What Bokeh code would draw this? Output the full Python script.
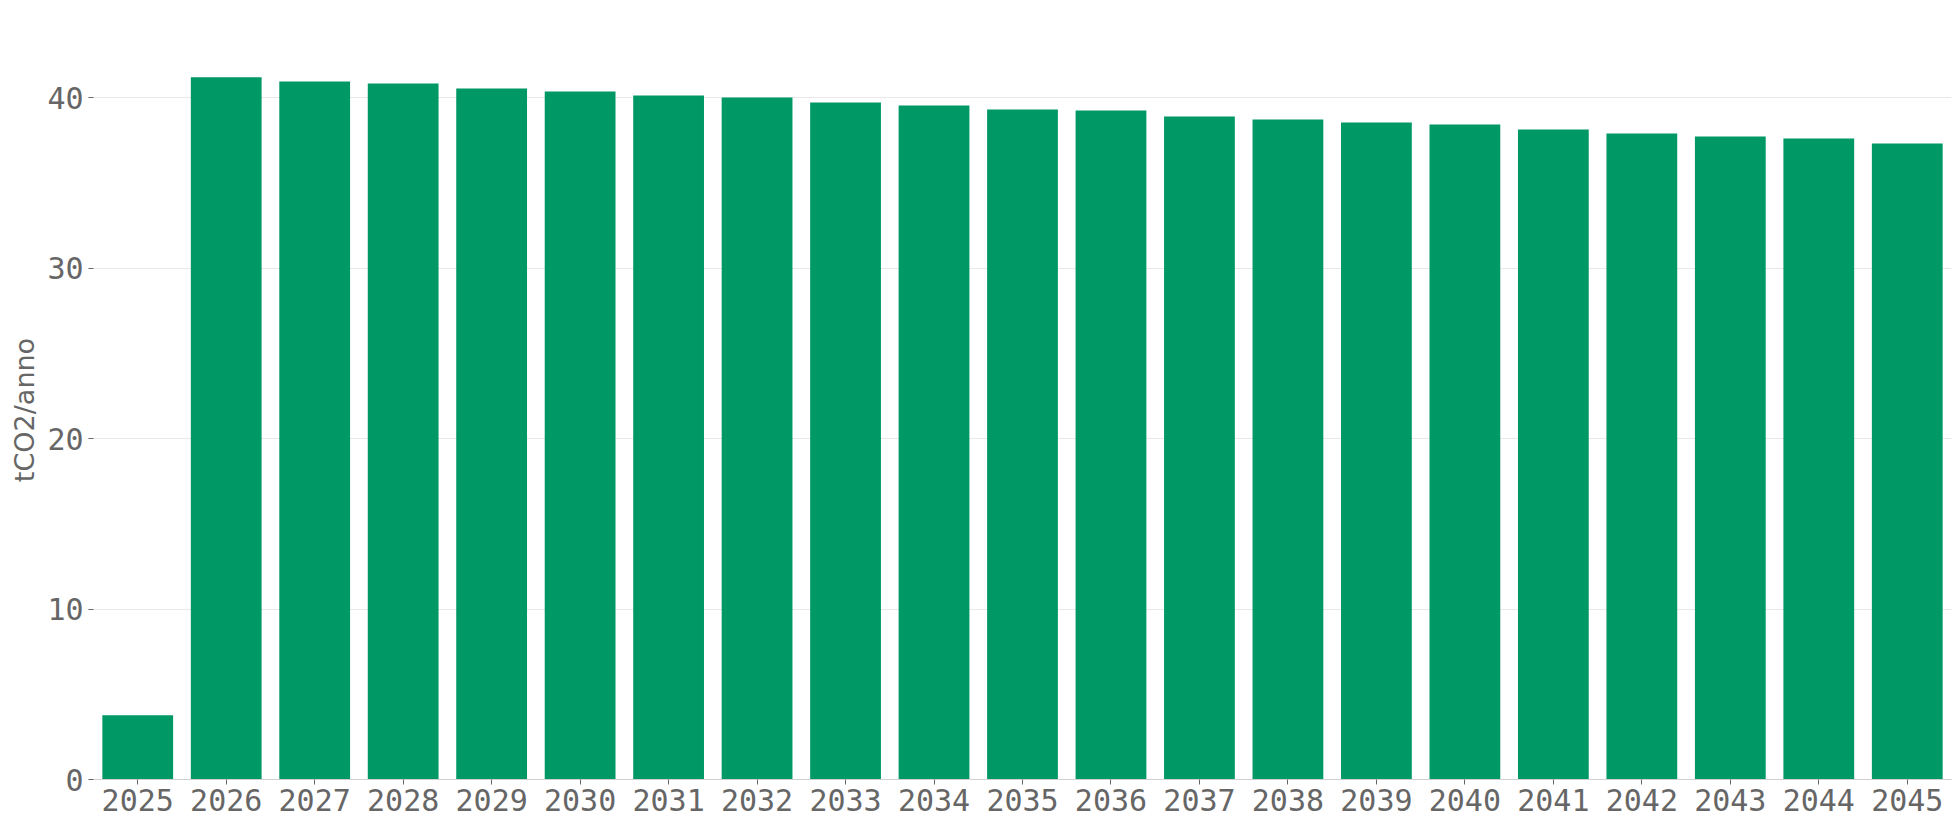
from bokeh.plotting import figure
from bokeh.models import ColumnDataSource, FactorRange, Range1d, FixedTicker, Spacer
from bokeh.layouts import row
from bokeh.embed import file_html
from bokeh.resources import INLINE

years = [str(y) for y in range(2025, 2046)]
emissions = [3.77, 41.21, 40.96, 40.85, 40.55, 40.38, 40.14, 40.02, 39.73, 39.55,
             39.32, 39.26, 38.91, 38.73, 38.56, 38.44, 38.15, 37.91, 37.73, 37.62, 37.32]
y_ticks = [0, 10, 20, 30, 40]
y_label = "tCO2/anno"

BAR = "#009865"
TXT = "#666666"

src = ColumnDataSource(dict(x=years, y=emissions))

p = figure(x_range=FactorRange(*years, range_padding=0),
           y_range=Range1d(0, 43.37),
           width=1954, height=828,
           min_border_left=84, min_border_top=40, min_border_right=9, min_border_bottom=49,
           output_backend="svg", toolbar_location=None)

p.vbar(x="x", top="y", width=0.8, source=src, color=BAR, line_color=None)

p.outline_line_color = None
p.background_fill_color = "white"
p.border_fill_color = "white"

p.xgrid.grid_line_color = None
p.ygrid.grid_line_color = "#e8e8e8"
p.ygrid.grid_line_width = 1

p.yaxis.ticker = FixedTicker(ticks=y_ticks)
p.yaxis.minor_tick_line_color = None
p.yaxis.axis_line_color = None
p.yaxis.major_tick_out = 5
p.yaxis.major_tick_in = 0
p.yaxis.major_tick_line_color = TXT
p.yaxis.major_label_standoff = 5
p.yaxis.axis_label = y_label
p.yaxis.axis_label_text_font = "DejaVu Sans"
p.yaxis.axis_label_text_font_size = "27px"
p.yaxis.axis_label_text_font_style = "normal"
p.yaxis.axis_label_text_color = TXT
p.yaxis.axis_label_standoff = 4

p.xaxis.axis_line_color = "#d0d0d0"
p.xaxis.major_tick_out = 5
p.xaxis.major_tick_in = 0
p.xaxis.major_tick_line_color = TXT
p.xaxis.major_label_standoff = 4

for ax in (p.xaxis, p.yaxis):
    ax.major_label_text_font = "DejaVu Sans Mono"
    ax.major_label_text_font_size = "30px"
    ax.major_label_text_color = TXT

layout = row(Spacer(width=6, height=828), p)
open("out.html", "w").write(file_html(layout, INLINE))
